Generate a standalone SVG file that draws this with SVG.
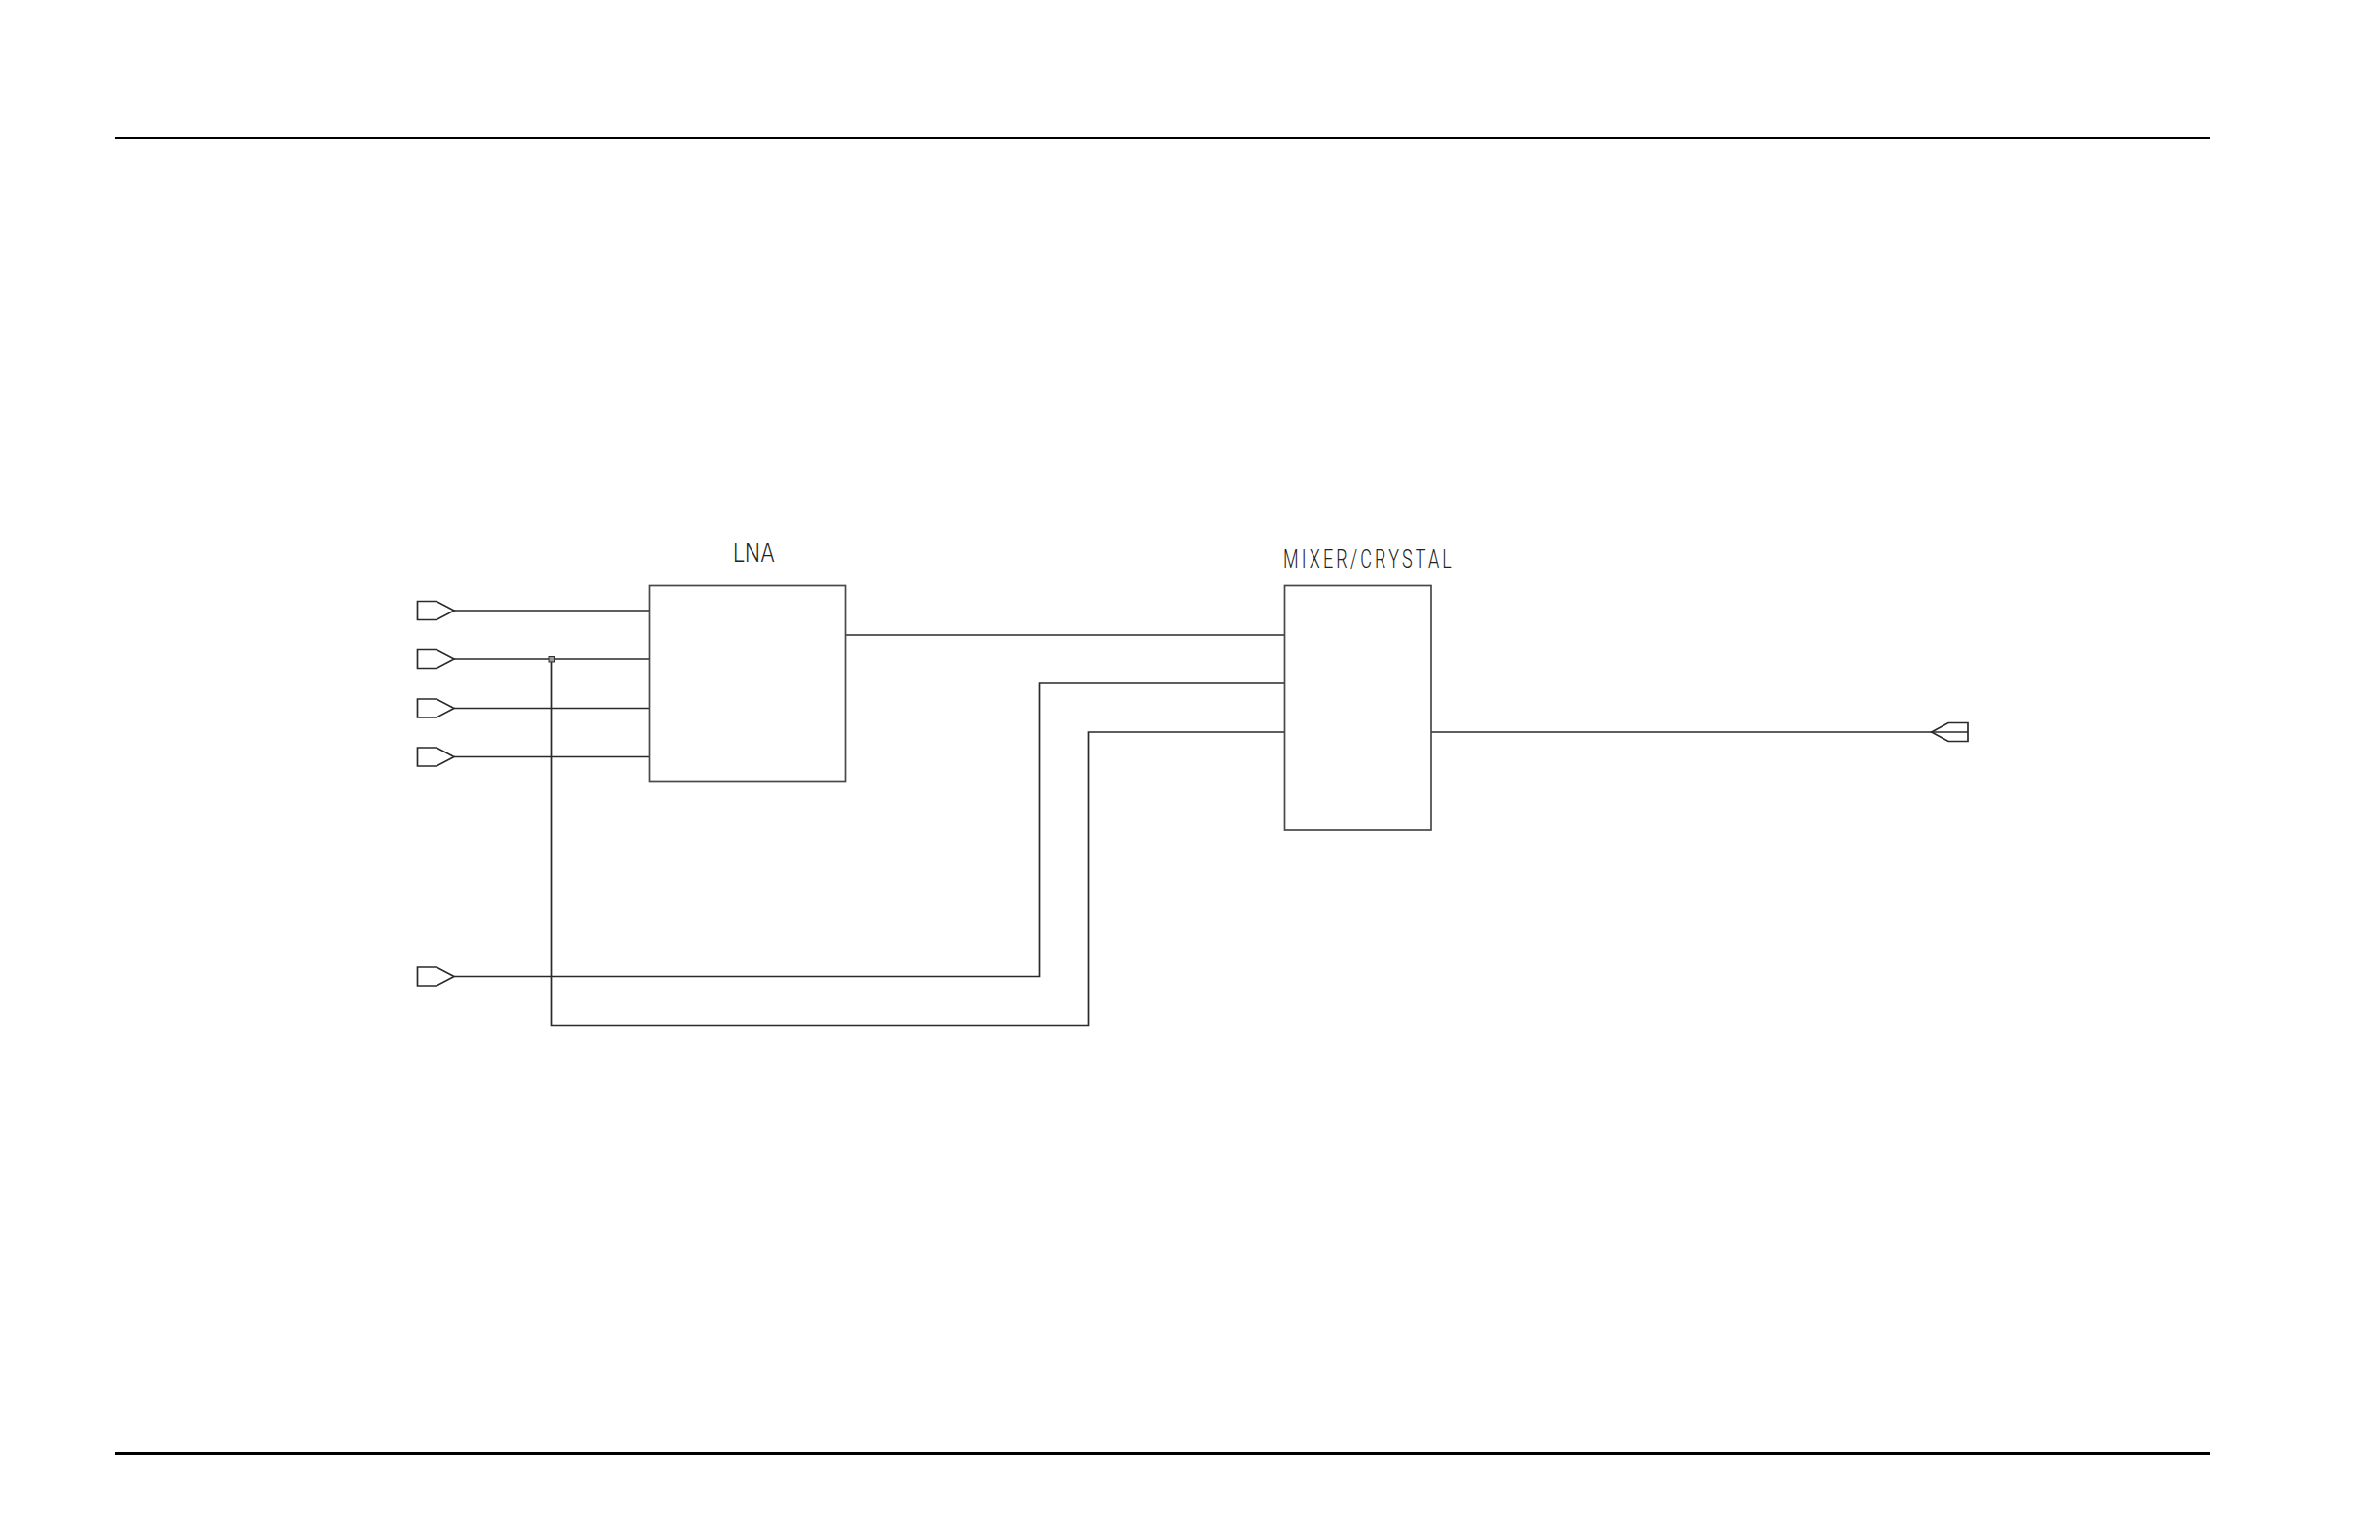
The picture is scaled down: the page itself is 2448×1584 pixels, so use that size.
<svg xmlns="http://www.w3.org/2000/svg" width="2448" height="1584" viewBox="0 0 2448 1584">
<style>
.w{fill:none;stroke:#2a2a2a;stroke-width:1.7}
.b{fill:#fff;stroke:#484848;stroke-width:1.7}
.p{fill:#fff;stroke:#2a2a2a;stroke-width:1.7}
.r{fill:none;stroke:#000}
.t{font-family:"Roboto","Liberation Sans",sans-serif;font-weight:300;fill:#222}
</style>
<rect width="2448" height="1584" fill="#fff"/>
<g id="rules">
<line class="r" stroke-width="2" x1="118" y1="142" x2="2273" y2="142"/>
<line class="r" stroke-width="3" x1="118" y1="1495.5" x2="2273" y2="1495.5"/>
</g>
<g id="connectors">
<path class="w" d="M467 628H668.5"/>
<path class="w" d="M467 678H668.5"/>
<path class="w" d="M467 728.5H668.5"/>
<path class="w" d="M467 778.5H668.5"/>
<path class="w" d="M869.5 653H1321.5"/>
<path class="w" d="M467 1004.5H1069.5V703H1321.5"/>
<path class="w" d="M567.5 678V1054.5H1119.5V753H1321.5"/>
<path class="w" d="M1472 753H2024"/>
<rect x="565" y="675.5" width="5.5" height="5.5" fill="#999" stroke="#333" stroke-width="1"/>
</g>
<g id="lna">
<rect class="b" x="668.5" y="602.5" width="201" height="201"/>
<text class="t" transform="translate(754 578) scale(.8 1)" font-size="28" textLength="53" lengthAdjust="spacing">LNA</text>
</g>
<g id="mixer">
<rect class="b" x="1321.5" y="602.5" width="150.5" height="251.5"/>
<text class="t" transform="translate(1320 583.5) scale(.72 1)" font-size="25" textLength="240" lengthAdjust="spacing">MIXER/CRYSTAL</text>
</g>
<g id="in1"><polygon class="p" points="429.5,618.5 449,618.5 467,628 449,637.5 429.5,637.5"/></g>
<g id="in2"><polygon class="p" points="429.5,668.5 449,668.5 467,678 449,687.5 429.5,687.5"/></g>
<g id="in3"><polygon class="p" points="429.5,719 449,719 467,728.5 449,738 429.5,738"/></g>
<g id="in4"><polygon class="p" points="429.5,769 449,769 467,778.5 449,788 429.5,788"/></g>
<g id="in5"><polygon class="p" points="429.5,995 449,995 467,1004.5 449,1014 429.5,1014"/></g>
<g id="out1"><polygon class="w" points="2024,743.5 2004,743.5 1986.7,753 2004,762.5 2024,762.5"/></g>
</svg>
